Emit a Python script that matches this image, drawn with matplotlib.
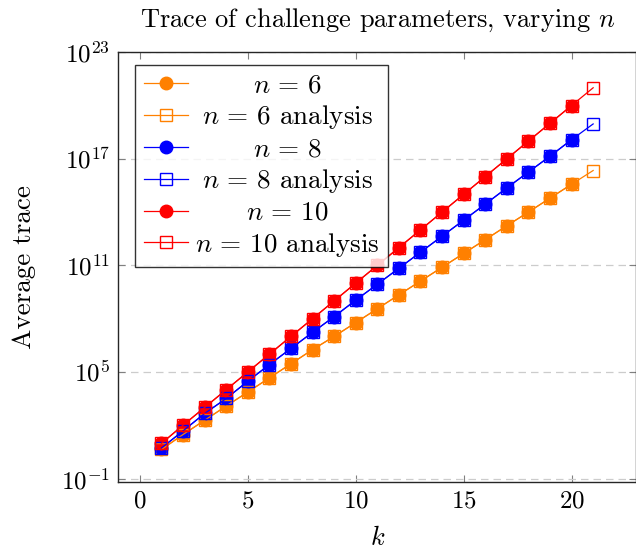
import matplotlib
matplotlib.use('Agg')
import matplotlib.pyplot as plt
import numpy as np

plt.rcParams['font.family'] = 'serif'
plt.rcParams['font.serif'] = ['cmr10']
plt.rcParams['mathtext.fontset'] = 'cm'
plt.rcParams['axes.formatter.use_mathtext'] = True

k = np.arange(1, 21)
k_an = np.arange(1, 22)

# values (average trace)
trace_n6 = [4.3, 30, 1.9e2, 1.2e3, 7.4e3, 4.6e4, 2.9e5, 1.8e6, 1.0e7, 6.0e7,
            3.6e8, 2.2e9, 1.3e10, 7.8e10, 4.7e11, 2.8e12, 1.7e13, 1.0e14, 6.1e14, 3.7e15]
trace_n6_an = trace_n6 + [2.2e16]
trace_n8 = [5.2, 48, 4.6e2, 3.2e3, 3.0e4, 2.6e5, 2.1e6, 1.7e7, 1.3e8, 1.1e9,
            8.6e9, 6.9e10, 5.5e11, 4.4e12, 3.5e13, 2.8e14, 2.3e15, 1.8e16, 1.4e17, 1.2e18]
trace_n8_an = trace_n8 + [9.2e18]
trace_n10 = [9.5, 1.0e2, 1.0e3, 1.0e4, 1.0e5, 1.0e6, 1.0e7, 1.0e8, 1.0e9, 1.0e10,
             1.0e11, 1.0e12, 1.0e13, 1.0e14, 1.0e15, 1.0e16, 1.0e17, 1.0e18, 1.0e19, 1.0e20]
trace_n10_an = trace_n10 + [1.0e21]

series = [
    ('6', trace_n6, trace_n6_an, '#ff8000'),
    ('8', trace_n8, trace_n8_an, '#0000ff'),
    ('10', trace_n10, trace_n10_an, '#ff0000'),
]

fs = 18
fig = plt.figure(figsize=(6.36, 5.56), dpi=100)
ax = fig.add_axes([0.186, 0.133, 0.8145, 0.773])

for n, vals, vals_an, c in series:
    ax.plot(k, vals, color=c, lw=0.9, marker='o', ms=9, mec=c, mfc=c,
            label=r'$n\,=\,%s$' % n, zorder=3)
    ax.plot(k_an, vals_an, color=c, lw=0.9, marker='s', ms=8.5, mec=c, mfc='none',
            label=r'$n\,=\,%s$ analysis' % n, zorder=4)

ax.set_yscale('log')
ax.set_xlim(-1, 23)
ax.set_ylim(10**-1.2, 1e23)
ax.set_xticks([0, 5, 10, 15, 20])
ax.set_yticks([1e-1, 1e5, 1e11, 1e17, 1e23])
ax.yaxis.set_minor_locator(matplotlib.ticker.NullLocator())
ax.tick_params(direction='in', which='both', top=True, right=True,
               color='0.5', labelsize=fs, length=5, pad=6)
ax.grid(axis='y', ls=(0, (6, 4)), color='0.8', lw=0.9)
for s in ax.spines.values():
    s.set_linewidth(1.0)
    s.set_color('0.15')

ax.set_xlabel(r'$k$', fontsize=19, labelpad=10)
ax.set_ylabel('Average trace', fontsize=19.5, labelpad=18)
ax.set_title(r'Trace of challenge parameters, varying $n$', fontsize=19, pad=18)

leg = ax.legend(loc='upper left', bbox_to_anchor=(0.033, 0.97), fontsize=19.5,
                frameon=True, fancybox=False, edgecolor='black',
                handlelength=1.66, borderpad=0.3, labelspacing=0.22, handletextpad=0.25,
                borderaxespad=0)
leg.get_frame().set_linewidth(1.0)

# centre the legend texts in their column, as in the original
fig.canvas.draw()
r = fig.canvas.get_renderer()
widths = [t.get_window_extent(r).width for t in leg.get_texts()]
wmax = max(widths)
for t, w in zip(leg.get_texts(), widths):
    t.set_x((wmax - w) / 2)

fig.savefig('out.png', dpi=100)
